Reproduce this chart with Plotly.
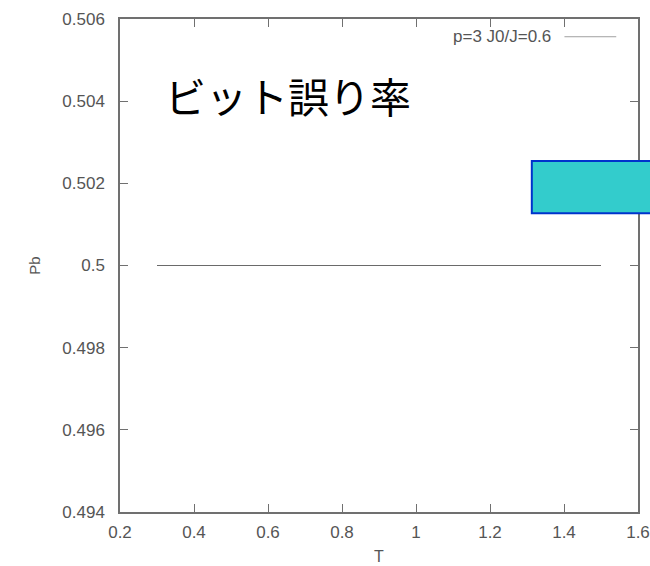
import plotly.graph_objects as go

# Bit error rate Pb versus temperature T
T = [0.3, 1.5]
Pb = [0.5, 0.5]
series_name = "p=3 J0/J=0.6"
title_text = "ビット誤り率"

x_ticks = [0.2, 0.4, 0.6, 0.8, 1.0, 1.2, 1.4, 1.6]
x_labels = ["0.2", "0.4", "0.6", "0.8", "1", "1.2", "1.4", "1.6"]
y_ticks = [0.494, 0.496, 0.498, 0.5, 0.502, 0.504, 0.506]
y_labels = ["0.494", "0.496", "0.498", "0.5", "0.502", "0.504", "0.506"]

axis_col = "#707070"
font_family = "Liberation Sans, Arial, sans-serif"
tick_font = dict(family=font_family, size=17, color="#555555")

fig = go.Figure()
fig.add_trace(go.Scatter(
    x=T, y=Pb, mode="lines", name=series_name,
    line=dict(color="#6a6a6a", width=1.2), showlegend=False,
))

common_axis = dict(
    showline=True, linecolor=axis_col, linewidth=1.5, mirror="allticks",
    ticks="inside", ticklen=8, tickwidth=1.2, tickcolor=axis_col,
    showgrid=False, zeroline=False, tickfont=tick_font, automargin=False,
)
fig.update_xaxes(range=[0.2, 1.6], tickvals=x_ticks, ticktext=x_labels,
                 ticklabelstandoff=4,
                 title=dict(text="T", font=dict(family=font_family, size=16, color="#555555"), standoff=10),
                 **common_axis)
fig.update_yaxes(range=[0.494, 0.506], tickvals=y_ticks, ticktext=y_labels,
                 ticklabelstandoff=10,
                 title=dict(text="Pb", font=dict(family=font_family, size=15, color="#555555"), standoff=18),
                 **common_axis)

# Key: label followed by a short line sample, gnuplot style
fig.add_annotation(xref="paper", yref="paper", x=0.835, y=0.964, text=series_name,
                   showarrow=False, xanchor="right", yanchor="middle",
                   font=dict(family=font_family, size=17, color="#555555"))
fig.add_shape(type="line", xref="paper", yref="paper", x0=0.858, x1=0.958, y0=0.964, y1=0.964,
              line=dict(color="#a0a0a0", width=1))

# Large heading
fig.add_annotation(xref="paper", yref="paper", x=0.083, y=0.845, text=title_text,
                   showarrow=False, xanchor="left", yanchor="middle",
                   font=dict(family="Noto Sans CJK JP", size=41, color="#000000"))

# Filled box overlapping the right frame
fig.add_shape(type="rect", xref="paper", yref="paper", x0=0.795, x1=1.1, y0=0.606, y1=0.712,
              fillcolor="#33CCCC", line=dict(color="#0033CC", width=2), layer="above")

fig.update_layout(
    width=650, height=566,
    margin=dict(l=120, r=12, t=19, b=54),
    plot_bgcolor="white", paper_bgcolor="white",
)

fig.write_html("out.html")
